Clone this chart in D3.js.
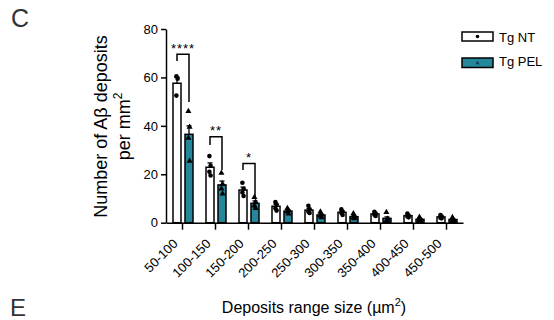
<!DOCTYPE html>
<html><head><meta charset="utf-8">
<script src="https://cdn.jsdelivr.net/npm/d3@7"></script>
<style>
html,body{margin:0;padding:0;background:#fff;}
svg{display:block;font-family:"Liberation Sans",Arial,sans-serif;}
</style></head>
<body>
<svg id="chart" width="554" height="320"></svg>
<script>
const categories = ["50-100","100-150","150-200","200-250","250-300","300-350","350-400","400-450","450-500"];
const seriesNames = ["Tg NT","Tg PEL"];
const ntMeans  = [57.6, 22.9, 13.5, 6.8, 5.2, 4.3, 3.6, 2.9, 2.4];
const pelMeans = [36.5, 15.6, 8.0, 4.8, 3.2, 2.5, 1.8, 1.4, 1.3];
const ntSem  = [2.5, 1.8, 1.2, 0.8, 0.7, 0.6, 0.5, 0.4, 0.4];
const pelSem = [3.5, 1.6, 1.0, 0.6, 0.5, 0.5, 0.6, 0.3, 0.3];
const ntPoints = [
  [60.5, 59.5, 52.5], [27.5, 23.5, 21, 19.5], [16.5, 14, 12.5, 11], [8.5, 7.5, 6, 5],
  [7, 5.5, 4.5, 4], [5.5, 4.5, 4, 3.2], [4.5, 3.8, 3.3, 2.8], [3.8, 3, 2.6, 2.2], [3.2, 2.6, 2, 1.8]
];
const pelPoints = [
  [46, 39.5, 35, 25.5], [20.5, 16, 14, 12], [10.5, 8.5, 7, 6], [6, 5, 4.5, 3.7],
  [4.5, 3.3, 2.8, 2.2], [3.8, 2.5, 2, 1.7], [4.3, 1.5, 0.8, 0.6], [2.3, 1.5, 1, 0.8], [2.2, 1.2, 1, 0.8]
];
const yTicks = [0, 20, 40, 60, 80];
const sigIndex = [0, 1, 2];
const sigLabels = ["****", "**", "*"];
const sigTop = [69.6, 35.5, 24.5];
const sigLeftEnd = [66.8, 32.1, 21.8];
const sigRightEnd = [49.9, 21.8, 10.7];

const teal = "#25879a";
const svg = d3.select("#chart");

const x = d3.scaleBand().domain(categories).range([166, 463]).padding(0);
const y = d3.scaleLinear().domain([0, 80]).range([222.7, 29]);
const cx = c => x(c) + x.bandwidth() / 2;
const barW = 8;
const ntX = c => cx(c) - 9.5;
const pelX = c => cx(c) + 2.5;

// panel letters
svg.append("text").attr("x", 11).attr("y", 27).attr("font-size", 25).attr("fill", "#333").text("C");
svg.append("text").attr("x", 10).attr("y", 316).attr("font-size", 24).attr("fill", "#333").text("E");

// bars
const g = svg.append("g");
g.selectAll("rect.nt").data(categories).join("rect")
  .attr("x", c => ntX(c)).attr("width", barW)
  .attr("y", (c, i) => y(ntMeans[i])).attr("height", (c, i) => y(0) - y(ntMeans[i]))
  .attr("fill", "#fff").attr("stroke", "#000").attr("stroke-width", 1.5);
g.selectAll("rect.pel").data(categories).join("rect")
  .attr("x", c => pelX(c)).attr("width", barW)
  .attr("y", (c, i) => y(pelMeans[i])).attr("height", (c, i) => y(0) - y(pelMeans[i]))
  .attr("fill", teal).attr("stroke", "#000").attr("stroke-width", 1.5);

// error bars
function errBars(means, sems, xf) {
  categories.forEach((c, i) => {
    const xc = xf(c) + barW / 2;
    g.append("line").attr("x1", xc).attr("x2", xc).attr("y1", y(means[i])).attr("y2", y(means[i] + sems[i]))
      .attr("stroke", "#000").attr("stroke-width", 1.3);
    g.append("line").attr("x1", xc - 2.5).attr("x2", xc + 2.5).attr("y1", y(means[i] + sems[i])).attr("y2", y(means[i] + sems[i]))
      .attr("stroke", "#000").attr("stroke-width", 1.3);
  });
}
errBars(ntMeans, ntSem, ntX);
errBars(pelMeans, pelSem, pelX);

// points
const tri = d3.symbol().type(d3.symbolTriangle).size(16);
categories.forEach((c, i) => {
  const xn = ntX(c) + barW / 2;
  ntPoints[i].forEach((v, j) => {
    g.append("circle").attr("cx", xn + (j % 2 ? 0.6 : -0.6)).attr("cy", y(v)).attr("r", 2.3).attr("fill", "#000");
  });
  const xp = pelX(c) + barW / 2;
  pelPoints[i].forEach((v, j) => {
    g.append("path").attr("d", tri).attr("transform", `translate(${xp + (j % 2 ? 0.6 : -0.6)},${y(v)})`).attr("fill", "#000");
  });
});

// significance brackets
sigIndex.forEach((ci, k) => {
  const c = categories[ci];
  const x1 = ntX(c) + barW / 2, x2 = pelX(c) + barW / 2;
  g.append("path")
    .attr("d", `M${x1},${y(sigLeftEnd[k])}V${y(sigTop[k])}H${x2}V${y(sigRightEnd[k])}`)
    .attr("fill", "none").attr("stroke", "#000").attr("stroke-width", 1.5);
  g.append("text").attr("x", (x1 + x2) / 2).attr("y", y(sigTop[k]) - 1.5)
    .attr("text-anchor", "middle").attr("font-size", 13).attr("letter-spacing", 1)
    .text(sigLabels[k]);
});

// y axis
const yAxis = d3.axisLeft(y).tickValues(yTicks).tickSize(5).tickSizeOuter(0).tickPadding(3);
const ya = svg.append("g").attr("transform", "translate(166,0)").call(yAxis);
ya.select(".domain").attr("stroke-width", 1.5);
ya.selectAll(".tick line").attr("stroke-width", 1.5);
ya.selectAll("text").attr("font-size", 13).attr("fill", "#000").attr("font-family", "Liberation Sans, Arial, sans-serif");

// x axis
const xAxis = d3.axisBottom(x).tickSize(7).tickSizeOuter(0).tickFormat("");
const xa = svg.append("g").attr("transform", `translate(0,${y(0)})`).call(xAxis);
xa.select(".domain").attr("stroke-width", 1.5);
xa.selectAll(".tick line").attr("stroke-width", 1.5);
svg.append("g").selectAll("text").data(categories).join("text")
  .attr("transform", c => `translate(${cx(c) - 4},244.5) rotate(-45)`)
  .attr("text-anchor", "end").attr("font-size", 13).text(c => c);

// axis titles
const yl = svg.append("text").attr("transform", "translate(107,126.5) rotate(-90)")
  .attr("text-anchor", "middle").attr("font-size", 18);
yl.append("tspan").text("Number of Aβ deposits");
const yl2 = svg.append("text").attr("transform", "translate(130,126.5) rotate(-90)")
  .attr("text-anchor", "middle").attr("font-size", 18);
yl2.append("tspan").text("per mm");
yl2.append("tspan").attr("font-size", 12).attr("dy", -8).text("2");

const xt = svg.append("text").attr("x", 314).attr("y", 313).attr("text-anchor", "middle").attr("font-size", 16);
xt.append("tspan").text("Deposits range size (µm");
xt.append("tspan").attr("font-size", 11).attr("dy", -7).text("2");
xt.append("tspan").attr("dy", 7).text(")");

// legend
const leg = svg.append("g");
leg.append("rect").attr("x", 462).attr("y", 32).attr("width", 31).attr("height", 9)
  .attr("fill", "#fff").attr("stroke", "#000").attr("stroke-width", 1.5);
leg.append("circle").attr("cx", 477.5).attr("cy", 36.5).attr("r", 1.8).attr("fill", "#000");
leg.append("text").attr("x", 499).attr("y", 41.5).attr("font-size", 13).text(seriesNames[0]);
leg.append("rect").attr("x", 462).attr("y", 58).attr("width", 31).attr("height", 9.5)
  .attr("fill", teal).attr("stroke", "#000").attr("stroke-width", 1.5);
leg.append("path").attr("d", d3.symbol().type(d3.symbolTriangle).size(7)).attr("transform", "translate(477.5,63)").attr("fill", "#0b3a5a");
leg.append("text").attr("x", 499).attr("y", 66).attr("font-size", 13).text(seriesNames[1]);
</script>
</body></html>
